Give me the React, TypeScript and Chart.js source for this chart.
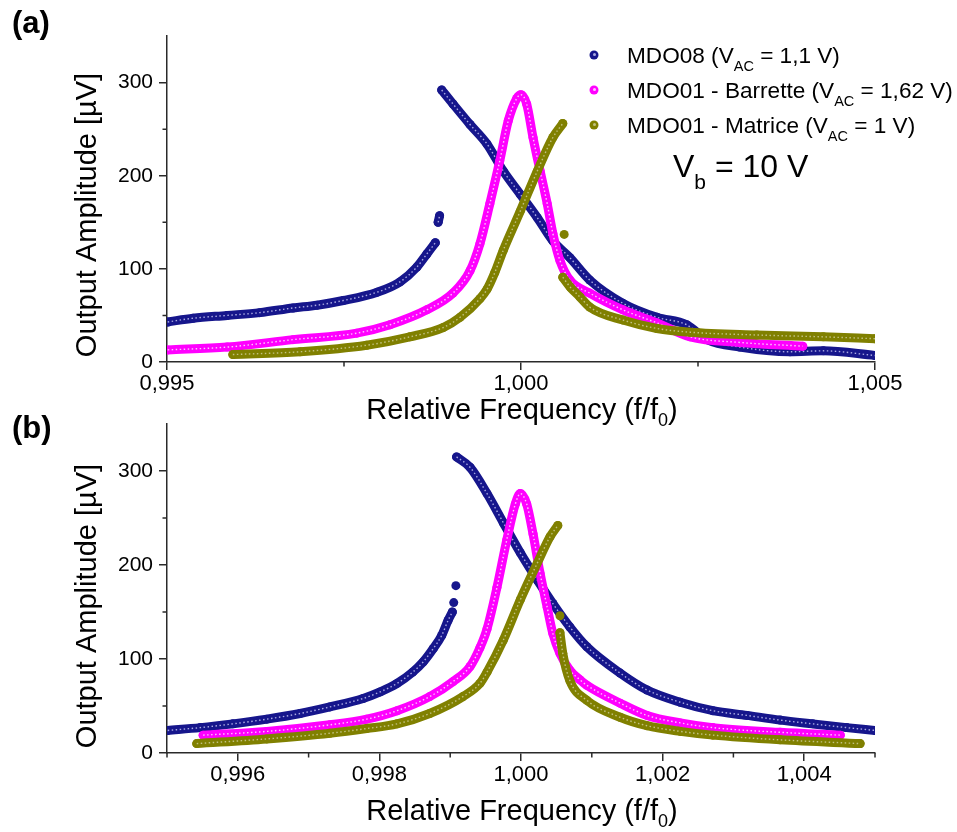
import React, { useEffect, useRef } from "react";
import { Chart, registerables } from "chart.js";

Chart.register(...registerables);

type Pt = [number, number | null];

// ---------- data ----------
const SERIES_NAMES = ["MDO08", "MDO01 - Barrette", "MDO01 - Matrice"];
const SERIES_VAC = ["1,1 V", "1,62 V", "1 V"];
const BIAS_VALUE = "10 V";

// Panel (a)
const A_BLUE: Pt[] = [
  [0.99501, 43], [0.99537, 47], [0.99585, 50], [0.99631, 53], [0.99678, 58], [0.99712, 61],
  [0.99749, 66], [0.99797, 75], [0.99829, 86], [0.99853, 102], [0.99867, 116], [0.99879, 128],
  [0.9988, null], [0.99883, 150], [0.99885, 157], [0.99886, null],
  [0.99888, 292], [0.99904, 277], [0.99928, 255], [0.99952, 234], [0.99975, 205], [0.99999, 180],
  [1.00023, 155], [1.00045, 130], [1.00069, 112], [1.00097, 88], [1.00144, 63], [1.00192, 48],
  [1.00234, 40], [1.00263, 24], [1.00309, 16], [1.0038, 11], [1.00427, 12], [1.005, 7],
];
const A_PINK: Pt[] = [
  [0.99501, 13], [0.99585, 16], [0.99678, 24], [0.99768, 31], [0.99815, 40], [0.99867, 56],
  [0.99904, 74], [0.99928, 98], [0.99942, 127], [0.99956, 170], [0.9997, 216], [0.99982, 259],
  [0.99994, 283], [1.0, 287], [1.00008, 277], [1.00017, 241], [1.00027, 205], [1.00037, 170],
  [1.00045, 138], [1.00055, 109], [1.00069, 88], [1.00097, 74], [1.00144, 56], [1.00192, 42],
  [1.00239, 27], [1.00309, 21], [1.00398, 17],
];
const A_OLIVE: Pt[] = [
  [0.99593, 8], [0.99688, 11], [0.99782, 18], [0.99843, 27], [0.9989, 37], [0.99914, 48],
  [0.99942, 68], [0.99952, 78], [0.99963, 96], [0.99975, 120], [0.99999, 162], [1.00023, 205],
  [1.00045, 241], [1.00059, 256], [1.0006, null], [1.00061, 137], [1.00062, null],
  [1.00059, 91], [1.0007, 80], [1.00083, 70], [1.00097, 59], [1.00144, 45], [1.00192, 36],
  [1.00239, 32], [1.00333, 29], [1.00427, 27], [1.005, 25],
];

// Panel (b)
const B_BLUE: Pt[] = [
  [0.99501, 24], [0.99547, 27], [0.99593, 31], [0.99641, 36], [0.99688, 42], [0.9973, 49],
  [0.99777, 58], [0.99801, 65], [0.99825, 74], [0.99847, 86], [0.99862, 97], [0.99876, 111],
  [0.99888, 125], [0.99897, 141], [0.99903, 150], [0.99904, null], [0.99905, 160], [0.99906, null],
  [0.99908, 178], [0.999085, null],
  [0.99909, 315], [0.99928, 304], [0.99952, 276], [0.99975, 245], [0.99999, 213], [1.00023, 184],
  [1.00045, 159], [1.00069, 134], [1.00093, 113], [1.0014, 85], [1.00178, 67], [1.00225, 54],
  [1.00271, 45], [1.00319, 40], [1.00366, 35], [1.00412, 31], [1.0046, 27], [1.005, 24],
];
const B_PINK: Pt[] = [
  [0.99551, 19], [0.99641, 23], [0.9973, 30], [0.99782, 36], [0.99825, 45], [0.99871, 60],
  [0.99904, 76], [0.99928, 92], [0.99942, 112], [0.99952, 132], [0.99966, 176], [0.9998, 227],
  [0.99992, 265], [0.99999, 276], [1.00008, 265], [1.00017, 233], [1.00027, 191], [1.00037, 155],
  [1.00045, 127], [1.00055, 106], [1.00069, 88], [1.00083, 78], [1.00093, 72], [1.0014, 53],
  [1.00178, 40], [1.00225, 32], [1.00271, 27], [1.00366, 22], [1.00451, 19],
];
const B_OLIVE: Pt[] = [
  [0.99542, 10], [0.99641, 15], [0.9973, 21], [0.99782, 26], [0.99825, 31], [0.99871, 42],
  [0.99918, 60], [0.99942, 74], [0.99952, 86], [0.99975, 120], [0.99999, 163], [1.00023, 202],
  [1.00041, 230], [1.00052, 242], [1.00053, null], [1.00055, 146], [1.00056, null],
  [1.00055, 128], [1.00059, 106], [1.00069, 77], [1.00093, 56], [1.0014, 38], [1.00178, 29],
  [1.00225, 23], [1.00271, 19], [1.00366, 14], [1.00479, 10],
];

const Y_TICKS = [0, 100, 200, 300];
const Y_MINOR = [50, 150, 250];
const A_X_TICKS = [0.995, 1.0, 1.005];
const A_X_MINOR = [0.9975, 1.0025];
const B_X_TICKS = [0.996, 0.998, 1.0, 1.002, 1.004];
const B_X_MINOR = [0.995, 0.997, 0.999, 1.001, 1.003, 1.005];
const X_MIN = 0.995;
const X_MAX = 1.005;
const Y_MIN = 0;
const Y_MAX = 350;

// ---------- styles ----------
const COLORS = ["#16168c", "#ff00ff", "#808000"];
const SPECKLE = ["rgba(185,185,235,0.9)", "rgba(255,205,255,0.95)", "rgba(205,205,150,0.85)"];
const AXIS = "#2a2a2a";
const FONT = '"Liberation Sans", Arial, Helvetica, sans-serif';

type Part = { t: string; sub?: boolean };

function drawRich(
  ctx: CanvasRenderingContext2D,
  parts: Part[],
  x: number,
  y: number,
  size: number,
  subSize: number,
  subDrop: number,
  align: "left" | "center"
) {
  const widths = parts.map((p) => {
    ctx.font = `${p.sub ? subSize : size}px ${FONT}`;
    return ctx.measureText(p.t).width;
  });
  const total = widths.reduce((a, b) => a + b, 0);
  let cx = align === "center" ? x - total / 2 : x;
  ctx.textAlign = "left";
  ctx.textBaseline = "alphabetic";
  parts.forEach((p, i) => {
    ctx.font = `${p.sub ? subSize : size}px ${FONT}`;
    ctx.fillText(p.t, cx, p.sub ? y + subDrop : y);
    cx += widths[i];
  });
}

type PanelProps = {
  top: number;
  height: number;
  plotTop: number;
  plotBottom: number;
  series: Pt[][];
  xTicks: number[];
  xMinor: number[];
  letter: string;
  letterBaseline: number;
  yTitleCenter: number;
  xTitleBaseline: number;
  showLegend: boolean;
};

function Panel(props: PanelProps) {
  const ref = useRef<HTMLCanvasElement>(null);
  useEffect(() => {
    const canvas = ref.current;
    if (!canvas) return;
    const {
      height, plotTop, plotBottom, series, xTicks, xMinor, letter,
      letterBaseline, yTitleCenter, xTitleBaseline, showLegend,
    } = props;

    const datasets: any[] = [];
    series.forEach((s, i) => {
      const data = s.map(([x, y]) => ({ x, y }));
      datasets.push({
        label: SERIES_NAMES[i],
        data,
        showLine: true,
        borderColor: COLORS[i],
        backgroundColor: COLORS[i],
        borderWidth: 9,
        borderCapStyle: "round",
        borderJoinStyle: "round",
        pointRadius: 4.5,
        pointHoverRadius: 4.5,
        pointBorderWidth: 0,
        pointBackgroundColor: COLORS[i],
        cubicInterpolationMode: "monotone",
        spanGaps: false,
        order: 10 - i * 2,
      });
      datasets.push({
        label: SERIES_NAMES[i] + " ",
        data,
        showLine: true,
        borderColor: SPECKLE[i],
        borderWidth: 1.4,
        borderDash: [1.5, 2.5],
        pointRadius: 0,
        cubicInterpolationMode: "monotone",
        spanGaps: false,
        order: 9 - i * 2,
      });
    });

    const decor = {
      id: "decor",
      afterDraw(chart: any) {
        const ctx: CanvasRenderingContext2D = chart.ctx;
        const xs = chart.scales.x;
        const ys = chart.scales.y;
        ctx.save();
        ctx.strokeStyle = AXIS;
        ctx.lineWidth = 1.5;
        ctx.beginPath();
        xMinor.forEach((v) => {
          const px = xs.getPixelForValue(v);
          ctx.moveTo(px, ys.bottom);
          ctx.lineTo(px, ys.bottom + 4.5);
        });
        Y_MINOR.forEach((v) => {
          const py = ys.getPixelForValue(v);
          ctx.moveTo(xs.left - 4.5, py);
          ctx.lineTo(xs.left, py);
        });
        ctx.stroke();

        ctx.fillStyle = "#000";
        ctx.font = `bold 31px ${FONT}`;
        ctx.textAlign = "left";
        ctx.textBaseline = "alphabetic";
        ctx.fillText(letter, 12, letterBaseline);

        ctx.save();
        ctx.translate(88, yTitleCenter);
        ctx.rotate(-Math.PI / 2);
        ctx.font = `29px ${FONT}`;
        ctx.textAlign = "center";
        ctx.textBaseline = "middle";
        ctx.fillText("Output Amplitude [\u00b5V]", 0, 0);
        ctx.restore();

        drawRich(
          ctx,
          [{ t: "Relative Frequency (f/f" }, { t: "0", sub: true }, { t: ")" }],
          522, xTitleBaseline, 29, 18, 7, "center"
        );

        if (showLegend) {
          for (let i = 0; i < 3; i++) {
            const my = 55 + 35 * i;
            ctx.beginPath();
            ctx.fillStyle = COLORS[i];
            ctx.arc(594, my, 4.5, 0, Math.PI * 2);
            ctx.fill();
            ctx.beginPath();
            ctx.fillStyle = SPECKLE[i];
            ctx.arc(594.5, my - 0.5, 1.5, 0, Math.PI * 2);
            ctx.fill();
            ctx.fillStyle = "#000";
            drawRich(
              ctx,
              [
                { t: `${SERIES_NAMES[i]} (V` },
                { t: "AC", sub: true },
                { t: ` = ${SERIES_VAC[i]})` },
              ],
              627, 63 + 35 * i, 22.6, 14.5, 8, "left"
            );
          }
          drawRich(
            ctx,
            [{ t: "V" }, { t: "b", sub: true }, { t: ` = ${BIAS_VALUE}` }],
            673, 177, 32, 21, 12, "left"
          );
        }
        ctx.restore();
      },
    };

    const chart = new Chart(canvas, {
      type: "scatter",
      data: { datasets },
      plugins: [decor],
      options: {
        responsive: false,
        animation: false,
        events: [],
        layout: { padding: { left: 0, right: 82, top: plotTop, bottom: 0 } },
        plugins: { legend: { display: false }, tooltip: { enabled: false } },
        scales: {
          x: {
            type: "linear",
            min: X_MIN,
            max: X_MAX,
            afterBuildTicks: (scale: any) => {
              scale.ticks = xTicks.map((v) => ({ value: v }));
            },
            afterFit: (scale: any) => {
              scale.height = height - plotBottom;
            },
            ticks: {
              autoSkip: false,
              maxRotation: 0,
              padding: 1,
              color: "#000",
              font: { family: FONT, size: 22, lineHeight: 1.2 },
              callback: (v: any) => Number(v).toFixed(3).replace(".", ","),
            },
            grid: {
              display: true,
              drawOnChartArea: false,
              drawTicks: true,
              tickLength: 8,
              color: AXIS,
              lineWidth: 1.5,
            },
            border: { display: true, color: AXIS, width: 1.5 },
          },
          y: {
            type: "linear",
            min: Y_MIN,
            max: Y_MAX,
            afterBuildTicks: (scale: any) => {
              scale.ticks = Y_TICKS.map((v) => ({ value: v }));
            },
            afterFit: (scale: any) => {
              scale.width = 167;
            },
            ticks: {
              autoSkip: false,
              padding: 6,
              color: "#000",
              font: { family: FONT, size: 21 },
              callback: (v: any) => String(v),
            },
            grid: {
              display: true,
              drawOnChartArea: false,
              drawTicks: true,
              tickLength: 8,
              color: AXIS,
              lineWidth: 1.5,
            },
            border: { display: true, color: AXIS, width: 1.5 },
          },
        },
      } as any,
    });
    return () => chart.destroy();
  }, []);

  return (
    <canvas
      ref={ref}
      width={957}
      height={props.height}
      style={{ position: "absolute", left: 0, top: props.top, width: 957, height: props.height, display: "block" }}
    />
  );
}

export default function App() {
  return (
    <div style={{ position: "absolute", left: 0, top: 0, width: 957, height: 832, background: "#fff", overflow: "hidden" }}>
      <Panel
        top={0}
        height={430}
        plotTop={36}
        plotBottom={362}
        series={[A_BLUE, A_PINK, A_OLIVE]}
        xTicks={A_X_TICKS}
        xMinor={A_X_MINOR}
        letter="(a)"
        letterBaseline={33}
        yTitleCenter={215}
        xTitleBaseline={419}
        showLegend={true}
      />
      <Panel
        top={400}
        height={432}
        plotTop={24}
        plotBottom={353}
        series={[B_BLUE, B_PINK, B_OLIVE]}
        xTicks={B_X_TICKS}
        xMinor={B_X_MINOR}
        letter="(b)"
        letterBaseline={38}
        yTitleCenter={206}
        xTitleBaseline={420}
        showLegend={false}
      />
    </div>
  );
}
